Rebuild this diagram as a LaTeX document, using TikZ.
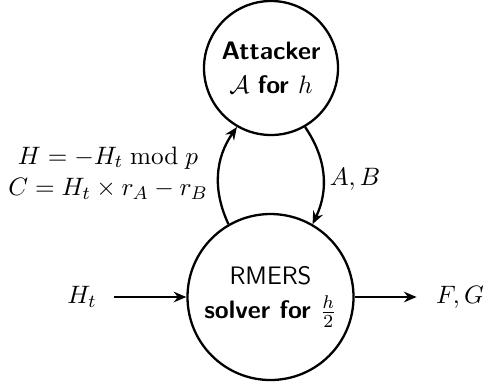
\documentclass[tikz,border=0pt]{standalone}
\usetikzlibrary{arrows.meta}
\begin{document}
\begin{tikzpicture}[x=0.4348pt,y=-0.4348pt,
  every node/.style={font=\fontsize{11}{13.6}\selectfont},
  circ/.style={draw,circle,line width=1pt,inner sep=0pt,align=center},
  arr/.style={line width=1pt,-{Stealth[length=5.5pt,width=4.6pt,inset=1.8pt]}},
  lbl/.style={inner sep=0pt}]
\useasboundingbox (0,0) rectangle (483,383);
\node[circ,minimum size=134*0.4348pt] (att) at (271,68) {\sffamily\bfseries Attacker\\[1pt]$\mathcal{A}$ \sffamily\bfseries for $h$};
\node[circ,minimum size=166*0.4348pt] (sol) at (270.5,297) {\sffamily RMERS\\[1pt]\sffamily\bfseries solver for $\frac{h}{2}$};
\node[lbl] (ht) at (82,297) {$H_t$};
\node[lbl] (fg) at (460,297) {$F,G$};
\node[lbl,align=center] (eq) at (108,173) {$H=-H_t \bmod p$\\$C=H_t\times r_A-r_B$};
\node[lbl] (ab) at (355,179) {$A,B$};
\draw[arr] (sol.120) to[bend left=30] (att.240);
\draw[arr] (att.300) to[bend left=30] (sol.60);
\draw[arr] ([xshift=17*0.4348pt]ht.east) -- (sol.west);
\draw[arr] (sol.east) -- ([xshift=-19*0.4348pt]fg.west);
\end{tikzpicture}
\end{document}
